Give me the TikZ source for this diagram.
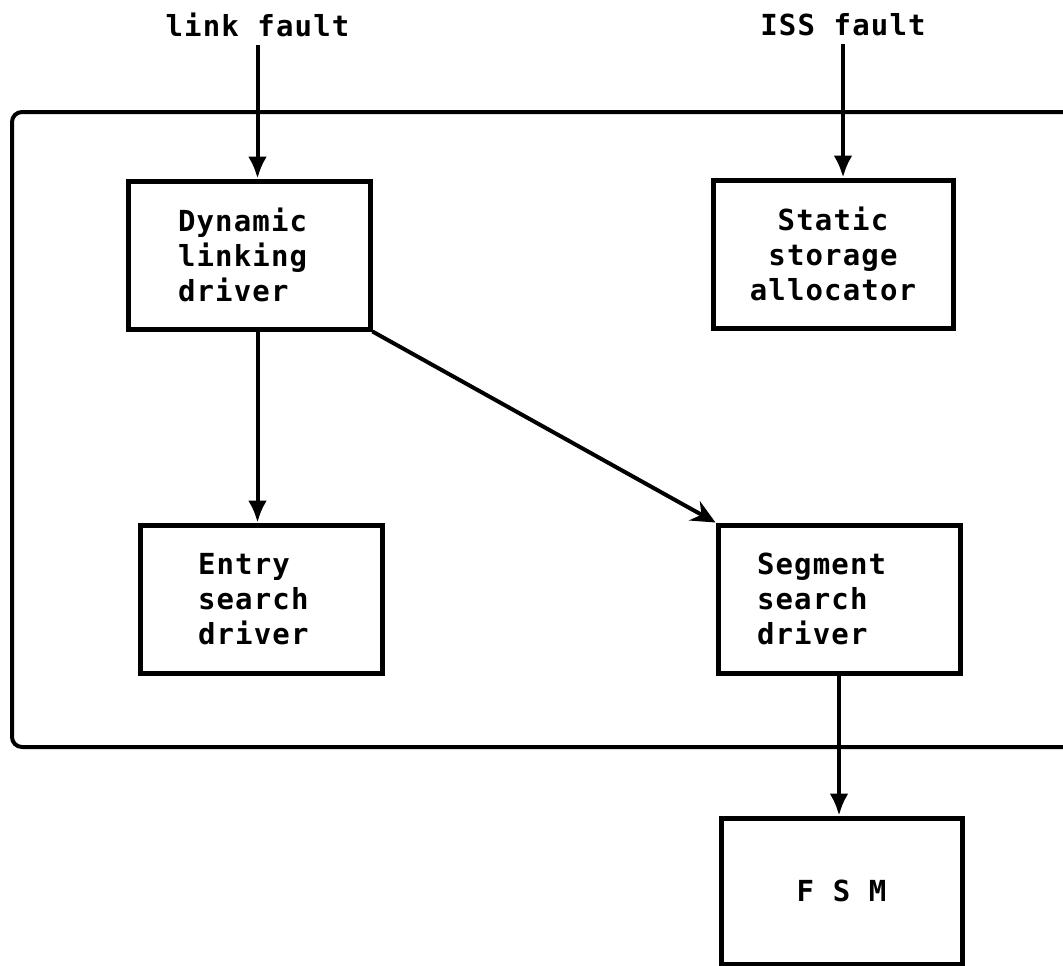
\documentclass[tikz,border=0pt]{standalone}
\usepackage{fontspec}
\newfontfamily\dfont[LetterSpace=4]{DejaVu Sans Mono}
\usetikzlibrary{arrows.meta}
\begin{document}
\begin{tikzpicture}[x=1pt,y=-1pt,
  txt/.style={font=\dfont\bfseries\fontsize{29}{35}\selectfont},
  lbl/.style={txt, inner sep=0pt},
  box/.style={draw, line width=5pt, txt, minimum width=242pt, minimum height=148pt},
  lbox/.style={box, align=left, inner xsep=#1, text width=242pt-2*#1},
  arr/.style={line width=4pt, -{Latex[length=22pt,width=19pt]}},
  darr/.style={line width=4pt, -{Stealth[length=24pt,width=22pt,inset=8pt]}}
]
\useasboundingbox (0,0) rectangle (1063,966);
\node[draw, line width=4pt, rounded corners=10pt, minimum width=1100pt, minimum height=635pt, anchor=north west, inner sep=0pt] (sys) at (10,110) {};

\node[lbl] (lf) at (257.5,25) {link fault};
\node[lbl] (iss) at (843,25) {ISS fault};

\node[lbox=50pt] (dyn) at (249,255) {Dynamic\\linking\\driver};
\node[box, align=center, minimum width=240pt] (ssa) at (833,254) {Static\\storage\\allocator};
\node[lbox=58pt] (ent) at (261,599) {Entry\\search\\driver};
\node[lbox=39pt] (seg) at (839,599) {Segment\\search\\driver};
\node[box, minimum width=241pt, minimum height=146pt] (fsm) at (841.5,891) {F S M};

\draw[arr] (lf.south) ++(0,8) coordinate (lfs) -- (lfs |- dyn.north);
\draw[arr] (iss.south) ++(0,8) coordinate (isss) -- (isss |- ssa.north);
\draw[arr] (lf.south |- dyn.south) -- (lf.south |- ent.north);
\draw[darr] (dyn.south east) -- (seg.north west);
\draw[arr] (seg.south) -- (seg.south |- fsm.north);
\end{tikzpicture}
\end{document}
